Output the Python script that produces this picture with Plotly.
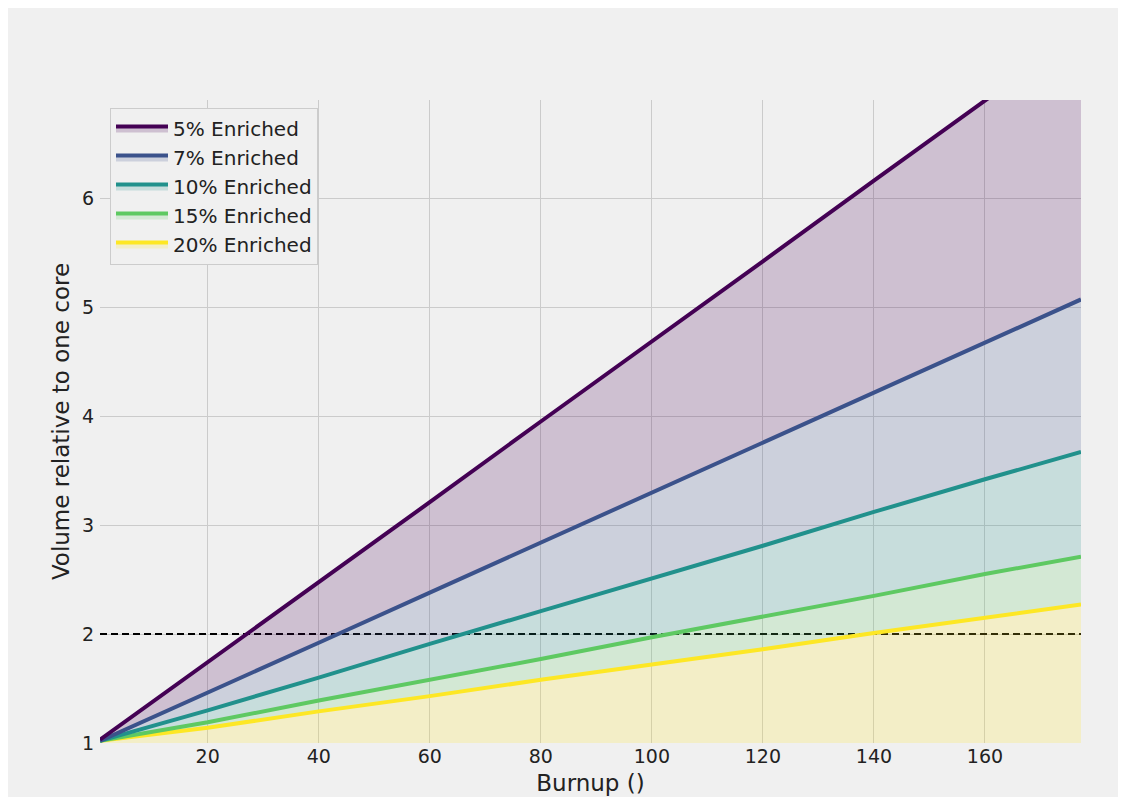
import plotly.graph_objects as go

# ---- data ----
burnup = [0.6, 20, 40, 60, 80, 100, 120, 140, 160, 177.3]
vol_5pct = [1.03, 1.74, 2.47, 3.21, 3.95, 4.68, 5.42, 6.16, 6.90, 7.53]
vol_7pct = [1.02, 1.46, 1.92, 2.38, 2.84, 3.30, 3.75, 4.21, 4.67, 5.07]
vol_10pct = [1.02, 1.30, 1.60, 1.91, 2.21, 2.51, 2.81, 3.12, 3.42, 3.67]
vol_15pct = [1.02, 1.19, 1.39, 1.58, 1.77, 1.97, 2.16, 2.35, 2.55, 2.71]
vol_20pct = [1.02, 1.14, 1.29, 1.43, 1.58, 1.72, 1.86, 2.01, 2.15, 2.27]
series_labels = ["5% Enriched", "7% Enriched", "10% Enriched", "15% Enriched", "20% Enriched"]
threshold = 2

# ---- styles ----
line_colors = ["#440154", "#3b528b", "#21918c", "#5ec962", "#fde725"]
fill_colors = ["rgba(68,1,84,0.2)", "rgba(59,82,139,0.2)", "rgba(33,145,140,0.2)",
               "rgba(94,201,98,0.2)", "rgba(253,231,37,0.2)"]
FONT = "DejaVu Sans"
TXT = "#222222"
# page has an 8px body margin; figure sized so plot area lands where the reference has it
W, H = 1113, 789
ML, MR, MT, MB = 92, 40, 92, 54
PW, PH = W - ML - MR, H - MT - MB

all_series = [vol_5pct, vol_7pct, vol_10pct, vol_15pct, vol_20pct]

fig = go.Figure()

# threshold dashed line
fig.add_trace(go.Scatter(
    x=[burnup[0], burnup[-1]], y=[threshold, threshold], mode="lines",
    line=dict(color="black", width=2, dash="7px,4px"),
    showlegend=False, hoverinfo="skip"))

# draw from bottom (20%) upward so tonexty fills go between consecutive curves
for i in reversed(range(5)):
    fig.add_trace(go.Scatter(
        x=burnup, y=all_series[i], mode="lines", name=series_labels[i],
        line=dict(color=line_colors[i], width=4),
        fill="tozeroy" if i == 4 else "tonexty",
        fillcolor=fill_colors[i]))


def plot_px_x(px):
    # px measured in page coords; plot-area left edge sits at 100
    return (px - 100) / PW


def plot_px_y(py):
    return 1 - (py - 100) / PH


fig.update_layout(
    width=W, height=H,
    margin=dict(l=ML, r=MR, t=MT, b=MB),
    paper_bgcolor="#f0f0f0", plot_bgcolor="#f0f0f0",
    font=dict(family=FONT, size=19, color=TXT),
    showlegend=True,
    legend=dict(x=plot_px_x(110), y=plot_px_y(108), xanchor="left", yanchor="top",
                bgcolor="#f0f0f0", bordercolor="#cccccc", borderwidth=1,
                itemwidth=52, traceorder="reversed",
                font=dict(size=20, family=FONT, color=TXT)),
)

fig.update_xaxes(range=[burnup[0], burnup[-1]], tick0=0, dtick=20,
                 showgrid=True, gridcolor="#cbcbcb", gridwidth=1.3,
                 zeroline=False, showline=False, ticks="", automargin=False,
                 tickfont=dict(size=19, family=FONT, color=TXT),
                 title=dict(text="Burnup ()", font=dict(size=23, family=FONT, color=TXT), standoff=8))
fig.update_yaxes(range=[1, 6.9], tick0=0, dtick=1,
                 showgrid=True, gridcolor="#cbcbcb", gridwidth=1.3,
                 zeroline=False, showline=False, ticks="", ticklabelstandoff=5,
                 automargin=False,
                 tickfont=dict(size=19, family=FONT, color=TXT),
                 title=dict(text="Volume relative to one core", font=dict(size=23, family=FONT, color=TXT), standoff=5))

fig.write_html("out.html")
